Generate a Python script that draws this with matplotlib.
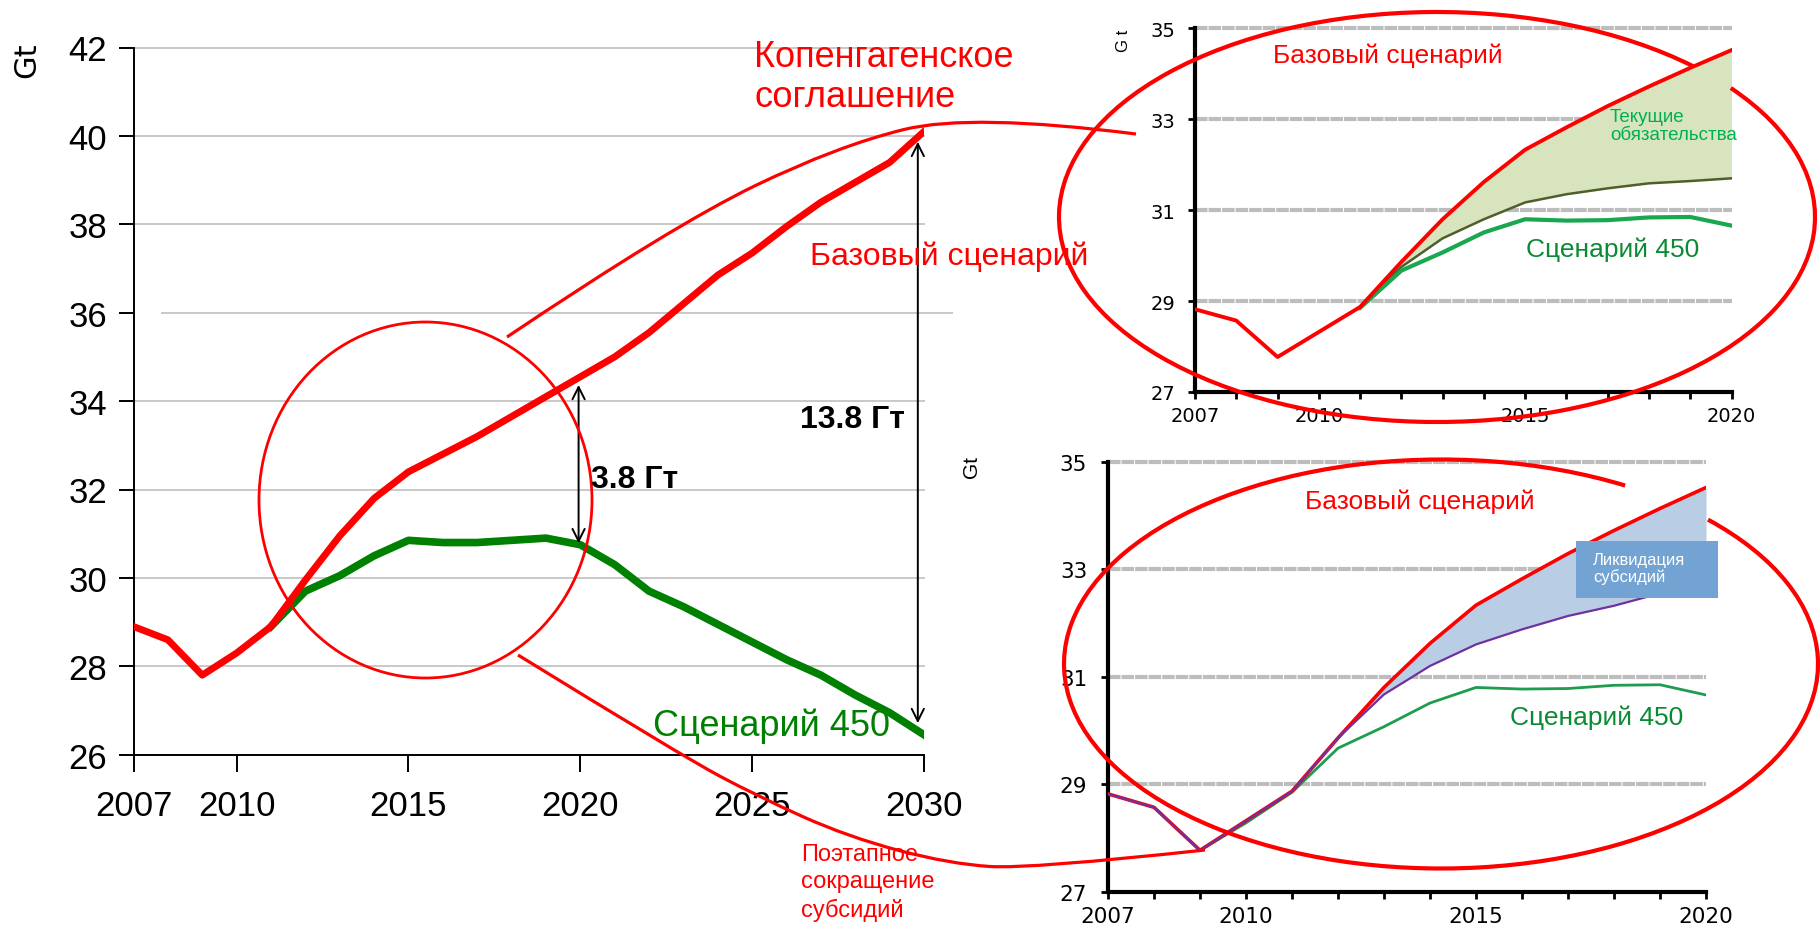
import numpy as np
import matplotlib
matplotlib.use("Agg")
import matplotlib.pyplot as plt
from matplotlib.patches import Ellipse, Arc, Rectangle, PathPatch
from matplotlib.path import Path

plt.rcParams['font.family'] = ['Liberation Sans', 'DejaVu Sans']

# main chart: 2007-2030
years = list(range(2007, 2031))
base_main = [28.9, 28.6, 27.8, 28.3, 28.9, 29.95, 30.95, 31.8, 32.4, 32.8, 33.2, 33.65,
             34.1, 34.55, 35.0, 35.55, 36.2, 36.85, 37.35, 37.95, 38.5, 38.95, 39.4, 40.1]
s450_main = [28.9, 28.6, 27.8, 28.3, 28.9, 29.7, 30.05, 30.5, 30.85, 30.8, 30.8, 30.85,
             30.9, 30.75, 30.3, 29.7, 29.35, 28.95, 28.55, 28.15, 27.8, 27.35, 26.95, 26.45]
main_xticks = [2007, 2010, 2015, 2020, 2025, 2030]
main_yticks = [26, 28, 30, 32, 34, 36, 38, 40, 42]

# insets: 2007-2020
years_in = list(range(2007, 2021))
base_in = [28.82, 28.57, 27.77, 28.32, 28.87, 29.86, 30.8, 31.62, 32.33, 32.82, 33.29, 33.72, 34.13, 34.52]
s450_in = [28.82, 28.57, 27.77, 28.28, 28.85, 29.67, 30.07, 30.51, 30.8, 30.77, 30.78, 30.84, 30.85, 30.66]
commit_in = [28.82, 28.57, 27.77, 28.32, 28.87, 29.75, 30.38, 30.8, 31.17, 31.35, 31.48, 31.59, 31.64, 31.7]
subsidy_in = [28.82, 28.57, 27.77, 28.32, 28.87, 29.86, 30.67, 31.2, 31.6, 31.88, 32.13, 32.32, 32.55, 32.75]
inset_xticks = [2007, 2010, 2015, 2020]
inset_yticks = [27, 29, 31, 33, 35]

W, H = 1820, 929
fig = plt.figure(figsize=(W / 100, H / 100), dpi=100, facecolor='white')


def px_box(l, t, r, b):
    return [l / W, 1 - b / H, (r - l) / W, (b - t) / H]


# ---------- main chart ----------
ax = fig.add_axes(px_box(133.5, 48.5, 924, 755.7))
ax.patch.set_alpha(0)
ax.set_xlim(2007, 2030)
ax.set_ylim(26, 42)
for s in ['top', 'right']:
    ax.spines[s].set_visible(False)
for s in ['left', 'bottom']:
    ax.spines[s].set_linewidth(1.4)
ax.set_xticks(main_xticks)
ax.set_yticks(main_yticks)
ax.tick_params(axis='x', length=12, width=1.4, pad=13, labelsize=25)
ax.tick_params(axis='y', length=11, width=1.4, pad=8, labelsize=25)
for v in main_yticks[1:]:
    if v == 36:
        ax.plot([0.036, 1.035], [v, v], transform=ax.get_yaxis_transform(),
                color='#c8c8c8', lw=1.4, clip_on=False, zorder=0)
    else:
        ax.axhline(v, color='#c8c8c8', lw=1.4, clip_on=False, zorder=0)

ax.plot(years[4:], s450_main[4:], color='#008000', lw=5.5, zorder=3)
ax.plot(years, base_main, color='#ff0000', lw=5, zorder=4)

arrow = dict(arrowstyle='<->', color='black', lw=1.4, mutation_scale=22)
ax.annotate('', xy=(2019.95, 30.72), xytext=(2019.95, 34.43), arrowprops=arrow)
ax.annotate('', xy=(2029.82, 26.65), xytext=(2029.82, 39.93), arrowprops=arrow)

# ---------- top inset: current commitments ----------
ax2 = fig.add_axes(px_box(1195, 29.3, 1731.5, 393))
ax2.patch.set_alpha(0)
ax2.set_xlim(2007, 2020)
ax2.set_ylim(27, 35)

# ---------- bottom inset: subsidy removal ----------
ax3 = fig.add_axes(px_box(1108, 462.7, 1706, 892.7))
ax3.patch.set_alpha(0)
ax3.set_xlim(2007, 2020)
ax3.set_ylim(27, 35)

for a, lsize, ypad in [(ax2, 14, 9), (ax3, 15.5, 10)]:
    for s in ['top', 'right']:
        a.spines[s].set_visible(False)
    for s in ['left', 'bottom']:
        a.spines[s].set_linewidth(3)
    a.set_xticks(inset_xticks)
    a.set_xticks(years_in, minor=True)
    a.set_yticks(inset_yticks)
    a.tick_params(axis='x', which='both', length=5, width=2, pad=5,
                  labelsize=lsize, labelfontfamily='DejaVu Sans')
    a.tick_params(axis='y', length=5, width=2, pad=ypad,
                  labelsize=lsize, labelfontfamily='DejaVu Sans')
    for v in inset_yticks[1:]:
        a.axhline(v, color='#bdbdbd', lw=3, ls=(0, (3, 0.25)), clip_on=False, zorder=0)

ax2.fill_between(years_in[4:], base_in[4:], commit_in[4:], color='#d7e4bd', lw=0, zorder=1)
ax2.plot(years_in[4:], commit_in[4:], color='#4f5f2a', lw=1.8, zorder=2)
ax2.plot(years_in[4:], s450_in[4:], color='#19a84f', lw=3, zorder=3)
ax2.plot(years_in, base_in, color='#ff0000', lw=2.8, zorder=4)

ax3.fill_between(years_in[5:], base_in[5:], subsidy_in[5:], color='#b9cde5', lw=0, zorder=1)
ax3.plot(years_in[2:], s450_in[2:], color='#1e9c50', lw=2, zorder=2)
ax3.plot(years_in, base_in, color='#ff0000', lw=2.6, zorder=3)
ax3.plot(years_in, subsidy_in, color='#7030a0', lw=1.6, zorder=4)

# ---------- overlay: ellipses, connectors and labels (pixel coordinates) ----------
ov = fig.add_axes([0, 0, 1, 1], zorder=10)
ov.set_xlim(0, W)
ov.set_ylim(H, 0)
ov.axis('off')


def curve(points, lw):
    codes = [Path.MOVETO]
    verts = [points[0]]
    for i in range(1, len(points) - 2):
        mid = ((points[i][0] + points[i + 1][0]) / 2, (points[i][1] + points[i + 1][1]) / 2)
        verts += [points[i], mid]
        codes += [Path.CURVE3, Path.CURVE3]
    verts += [points[-2], points[-1]]
    codes += [Path.CURVE3, Path.CURVE3]
    ov.add_patch(PathPatch(Path(verts, codes), fill=False, ec='#ff0000', lw=lw))


ov.add_patch(Ellipse((425.5, 501), 333, 356, fill=False, ec='#ff0000', lw=2))
ov.add_patch(Arc((1437, 218), 756, 410, theta1=-23.7, theta2=329.5, ec='#ff0000', lw=3))
ov.add_patch(Arc((1441, 665), 754, 409, theta1=-28.4, theta2=315.9, ec='#ff0000', lw=3))
curve([(507, 338), (672, 227), (837, 147), (971, 114), (1136, 135)], 2.3)
curve([(518, 656), (682, 757), (757, 797), (848, 838), (950, 865), (1030, 870), (1205, 851)], 2.3)

ov.add_patch(Rectangle((1576, 542), 142, 57, color='#73a3d3', lw=0))
ov.text(1593, 569, 'Ликвидация\nсубсидий', color='white', fontsize=12, va='center',
        linespacing=1.15)

red = '#ff0000'
ov.text(754, 77.5, 'Копенгагенское\nсоглашение', color=red, fontsize=26, va='center',
        linespacing=1.2)
ov.text(810, 257, 'Базовый сценарий', color=red, fontsize=23, va='center')
ov.text(653, 726, 'Сценарий 450', color='#008000', fontsize=26, va='center')
ov.text(800, 420, '13.8 Гт', color='black', fontsize=23, fontweight='bold', va='center')
ov.text(591, 480, '3.8 Гт', color='black', fontsize=23, fontweight='bold', va='center')
ov.text(801, 883, 'Поэтапное\nсокращение\nсубсидий', color=red, fontsize=17, va='center',
        linespacing=1.33)

ov.text(1273, 56, 'Базовый сценарий', color=red, fontsize=19, va='center')
ov.text(1610, 126.5, 'Текущие\nобязательства', color='#00b050', fontsize=13.5, va='center',
        linespacing=1.12)
ov.text(1526, 250, 'Сценарий 450', color='#0b8a34', fontsize=19, va='center')
ov.text(1305, 502, 'Базовый сценарий', color=red, fontsize=19, va='center')
ov.text(1510, 718, 'Сценарий 450', color='#0b8a34', fontsize=19, va='center')

ov.text(27, 60, 'Gt', fontsize=22, rotation=90, ha='center', va='center', family='DejaVu Sans')
ov.text(1123, 41, 'G t', fontsize=12, rotation=90, ha='center', va='center')
ov.text(972, 467, 'Gt', fontsize=15, rotation=90, ha='center', va='center')

fig.savefig('out.png', dpi=100, facecolor='white')
